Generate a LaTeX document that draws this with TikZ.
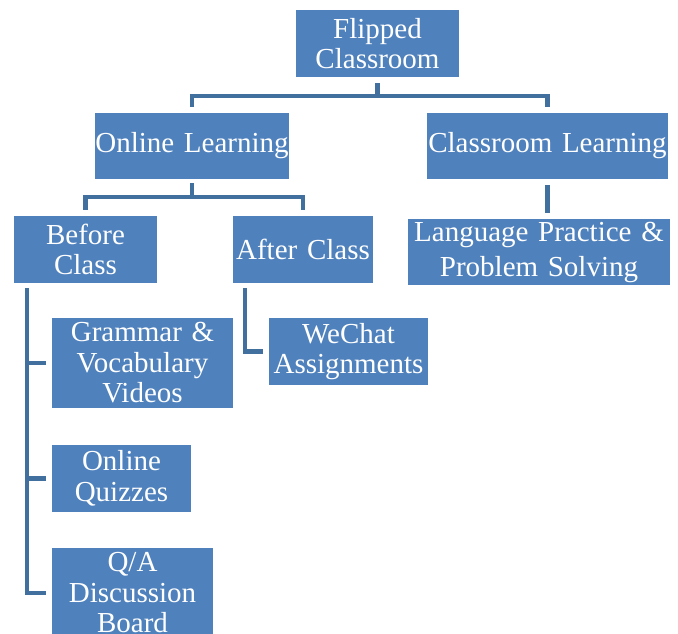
\documentclass[tikz,border=0pt]{standalone}
\usepackage{fontspec}
\setmainfont{Liberation Serif}
\usetikzlibrary{calc}
\definecolor{boxblue}{HTML}{4F81BD}
\definecolor{connblue}{HTML}{41709F}
\tikzset{
  box/.style={fill=boxblue, text=white, inner sep=0pt, align=center,
    font=\fontsize{29}{30.5}\selectfont},
  conn/.style={draw=connblue, line width=4.5pt, line join=miter, line cap=butt},
}
\begin{document}
\begin{tikzpicture}[x=1pt,y=-1pt]
\useasboundingbox (0,0) rectangle (678,633);
\clip (0,0) rectangle (678,633);
\fill[white] (0,0) rectangle (678,633);
\node[box, minimum width=163pt, text width=163pt, minimum height=67pt] (fc) at (377.5,43.5) {Flipped\\Classroom};
\node[box, minimum width=194pt, text width=194pt, minimum height=66pt] (ol) at (192,146) {Online Learning};
\node[box, minimum width=241pt, text width=241pt, minimum height=66pt] (cl) at (547.5,146) {Classroom Learning};
\node[box, minimum width=143pt, text width=143pt, minimum height=67pt] (bc) at (85.5,249.5) {Before\\Class};
\node[box, minimum width=140pt, text width=140pt, minimum height=67pt] (ac) at (303,249.5) {After Class};
\node[box, minimum width=262pt, text width=262pt, minimum height=66pt, font=\fontsize{29}{35}\selectfont] (lp) at (539,252) {Language Practice \&\\Problem Solving};
\node[box, minimum width=181pt, text width=181pt, minimum height=90pt] (gv) at (142.5,363) {Grammar \&\\Vocabulary\\Videos};
\node[box, minimum width=139pt, text width=139pt, minimum height=67pt] (oq) at (121.5,478.5) {Online\\Quizzes};
\node[box, minimum width=161pt, text width=161pt, minimum height=90pt] (qa) at (132.5,593) {Q/A\\Discussion\\Board};
\node[box, minimum width=159pt, text width=159pt, minimum height=67pt] (wc) at (348.5,351.5) {WeChat\\Assignments};
% connectors
\draw[conn] ($(fc.south)+(0,6)$) -- ++(0,13);
\draw[conn] ($(ol.north)+(0,-6)$) |- ($(cl.north)+(0,-17)$) -- ($(cl.north)+(0,-6)$);
\draw[conn] ($(ol.south)+(0,4)$) -- ++(0,15);
\draw[conn] ($(bc.north)+(0,-6)$) |- ($(ac.north)+(0,-19)$) -- ($(ac.north)+(0,-6)$);
\draw[conn] ($(cl.south)+(0,6)$) -- ($(cl.south |- lp.north)+(0,-6)$);
\coordinate (bl) at ($(bc.south west)+(13,5)$);
\draw[conn] (bl) |- ($(qa.west)+(-6,0)$);
\draw[conn] (bl |- gv.west) -- ($(gv.west)+(-6,0)$);
\draw[conn] (bl |- oq.west) -- ($(oq.west)+(-6,0)$);
\coordinate (al) at ($(ac.south west)+(12,5)$);
\draw[conn] (al) |- ($(wc.west)+(-6,0)$);
\end{tikzpicture}
\end{document}
